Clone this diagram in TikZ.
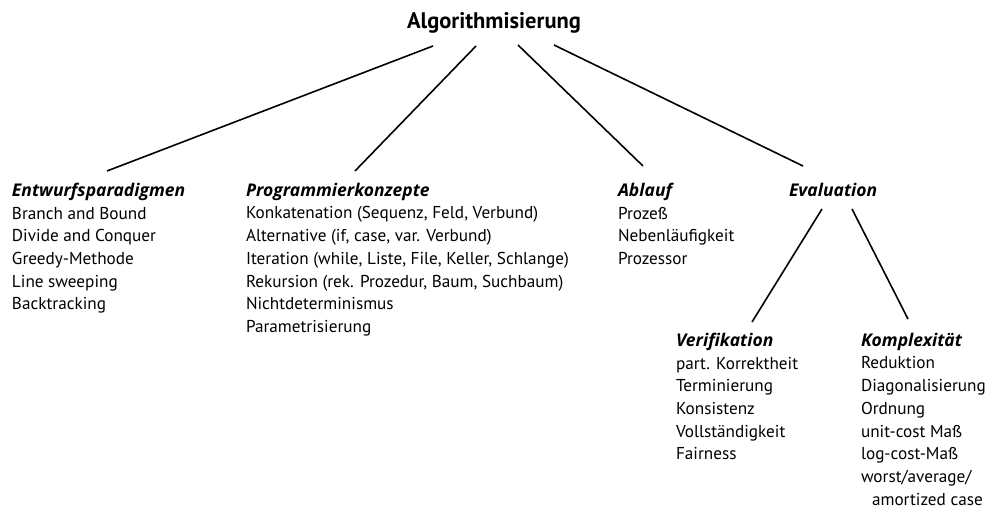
\documentclass[tikz,border=0pt]{standalone}
\usepackage{fontspec}
\setmainfont{PT Sans}
\newfontfamily\headfont{Open Sans}
\newcommand{\hd}[1]{{\headfont\fontsize{17.5}{22.7}\selectfont\bfseries\itshape #1}}
\begin{document}
\begin{tikzpicture}[x=1pt,y=1pt,
  every node/.style={inner sep=0pt, outer sep=0pt},
  roottitle/.style={font=\fontsize{22.5}{26}\selectfont\bfseries, anchor=base},
  column/.style={font=\fontsize{17.2}{22.7}\selectfont, align=left, anchor=north west},
  head/.style={anchor=north west},
  edge/.style={line width=1.6pt}]
\useasboundingbox (0,0) rectangle (993,509);
\fill[white] (0,0) rectangle (993,509);

\node[roottitle] (root) at (494,480) {Algorithmisierung};

\node[column] (ent) at (12,326) {\hd{Entwurfsparadigmen}\\
Branch and Bound\\ Divide and Conquer\\ Greedy-Methode\\ Line sweeping\\ Backtracking};

\node[column] (prog) at (246,326) {\hd{Programmierkonzepte}\\
Konkatenation (Sequenz, Feld, Verbund)\\ Alternative (if, case, var. Verbund)\\
Iteration (while, Liste, File, Keller, Schlange)\\ Rekursion (rek. Prozedur, Baum, Suchbaum)\\
Nichtdeterminismus\\ Parametrisierung};

\node[column] (abl) at (618,326) {\hd{Ablauf}\\
Prozeß\\ Nebenläufigkeit\\ Prozessor};

\node[head] (eval) at (789,326) {\hd{Evaluation}};

\node[column] (veri) at (676,176) {\hd{Verifikation}\\
part. Korrektheit\\ Terminierung\\ Konsistenz\\ Vollständigkeit\\ Fairness};

\node[column] (komp) at (861,176) {\hd{Komplexität}\\
Reduktion\\ Diagonalisierung\\ Ordnung\\ unit-cost Maß\\ log-cost-Maß\\ worst/average/\\ \hspace*{11pt}amortized case};

\draw[edge] ([shift={(-61,-17)}]root.base) -- ([shift={(95,12)}]ent.north west);
\draw[edge] ([shift={(-18,-17)}]root.base) -- ([shift={(109,12)}]prog.north west);
\draw[edge] ([shift={(24,-16)}]root.base) -- ([shift={(25,17)}]abl.north west);
\draw[edge] ([shift={(60,-16)}]root.base) -- ([shift={(14,17)}]eval.north west);
\draw[edge] ([shift={(33,-26)}]eval.north west) -- ([shift={(76,11)}]veri.north west);
\draw[edge] ([shift={(63,-26)}]eval.north west) -- ([shift={(47,14)}]komp.north west);
\end{tikzpicture}
\end{document}
